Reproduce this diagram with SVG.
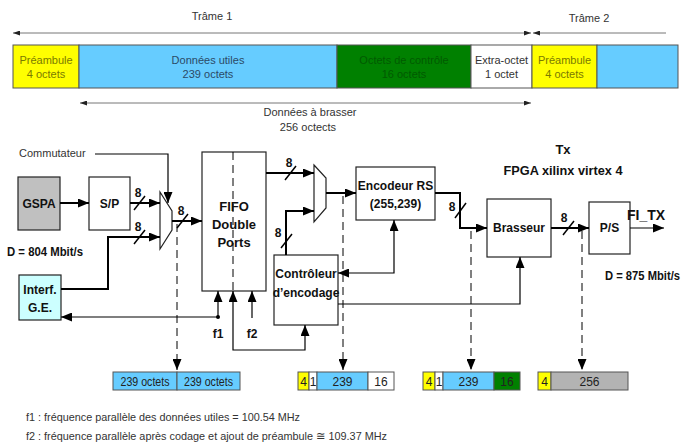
<svg xmlns="http://www.w3.org/2000/svg" width="692" height="443" viewBox="0 0 692 443">
<style>
text{font-family:"Liberation Sans",Arial,sans-serif;}
.t{font-size:11px;fill:#333;text-anchor:middle;}
.b{font-size:12px;font-weight:bold;fill:#111;text-anchor:middle;}
.n{font-size:12px;fill:#222;text-anchor:middle;}
.box{fill:#fff;stroke:#222;stroke-width:1.2;}
.seg{stroke:#555;stroke-width:1;}
.bus{fill:none;stroke:#000;stroke-width:2;}
.ctl{fill:none;stroke:#000;stroke-width:1.2;}
.dash{fill:none;stroke:#000;stroke-width:1;stroke-dasharray:8,5;}
.tl{fill:none;stroke:#777;stroke-width:1;}
.sl{stroke:#000;stroke-width:1.5;}
</style>
<defs>
<marker id="ah" markerUnits="userSpaceOnUse" markerWidth="11" markerHeight="9" refX="11" refY="4.5" orient="auto-start-reverse"><path d="M0,0 L11,4.5 L0,9 z" fill="#000"/></marker>
<marker id="sa" markerUnits="userSpaceOnUse" markerWidth="7" markerHeight="5" refX="7" refY="2.5" orient="auto-start-reverse"><path d="M0,0 L7,2.5 L0,5 z" fill="#222"/></marker>
</defs>

<g id="frame">
<rect class="seg" x="13" y="45" width="66" height="43" fill="#ffff00"/>
<rect class="seg" x="79" y="45" width="258" height="43" fill="#66ccff"/>
<rect class="seg" x="337" y="45" width="134" height="43" fill="#008000"/>
<rect class="seg" x="471" y="45" width="61" height="43" fill="#ffffff"/>
<rect class="seg" x="532" y="45" width="65" height="43" fill="#ffff00"/>
<rect class="seg" x="597" y="45" width="81" height="43" fill="#66ccff"/>
<text class="t" x="46" y="64" style="fill:#7a7a00">Préambule</text>
<text class="t" x="46" y="78" style="fill:#7a7a00">4 octets</text>
<text class="t" x="208" y="64" style="fill:#2b4a66">Données utiles</text>
<text class="t" x="208" y="78" style="fill:#2b4a66">239 octets</text>
<text class="t" x="404" y="64" style="fill:#005a00">Octets de contrôle</text>
<text class="t" x="404" y="78" style="fill:#005a00">16 octets</text>
<text class="t" x="501.5" y="64">Extra-octet</text>
<text class="t" x="501.5" y="78">1 octet</text>
<text class="t" x="564.5" y="64" style="fill:#7a7a00">Préambule</text>
<text class="t" x="564.5" y="78" style="fill:#7a7a00">4 octets</text>
<text class="t" x="212" y="20">Trâme 1</text>
<text class="t" x="589" y="22">Trâme 2</text>
<text class="t" x="310" y="116">Données à brasser</text>
<text class="t" x="308" y="131">256 octects</text>
<path class="tl" d="M13,33 H531" marker-start="url(#sa)" marker-end="url(#sa)"/>
<path class="tl" d="M533,33 H666" marker-start="url(#sa)"/>
<path class="tl" d="M80,103 H531" marker-start="url(#sa)" marker-end="url(#sa)"/>
</g>

<g id="gspa"><rect class="box" x="18" y="177" width="42" height="53" style="fill:#c0c0c0"/><text class="b" x="39" y="208">GSPA</text></g>
<g id="sp"><rect class="box" x="89" y="177" width="41" height="53"/><text class="b" x="109.5" y="208">S/P</text></g>
<g id="interf"><rect class="box" x="19" y="275" width="42" height="45" style="fill:#ccffff"/><text class="b" x="40" y="294">Interf.</text><text class="b" x="40" y="312">G.E.</text></g>
<g id="mux1"><polygon class="box" points="160,192 172,211 172,230 160,249"/></g>
<g id="fifo"><rect class="box" x="202" y="152" width="64" height="139"/><line class="dash" x1="233" y1="152" x2="233" y2="291"/><text class="b" x="234" y="211" style="font-size:13px">FIFO</text><text class="b" x="234" y="229" style="font-size:13px">Double</text><text class="b" x="234" y="247" style="font-size:13px">Ports</text></g>
<g id="mux2"><polygon class="box" points="314,165 326,178 326,208 314,222"/></g>
<g id="encodeur"><rect class="box" x="356" y="167" width="79" height="53"/><text class="b" x="395.5" y="190">Encodeur RS</text><text class="b" x="395.5" y="208">(255,239)</text></g>
<g id="controleur"><rect class="box" x="274" y="255" width="64" height="70"/><text class="b" x="306" y="278">Contrôleur</text><text class="b" x="306" y="297">d’encodage</text></g>
<g id="brasseur"><rect class="box" x="487" y="199" width="64" height="58"/><text class="b" x="519" y="232">Brasseur</text></g>
<g id="ps"><rect class="box" x="589" y="202" width="41" height="52"/><text class="b" x="609.5" y="232">P/S</text></g>

<g id="connectors">
<path class="ctl" d="M95,154 H168 V203" marker-end="url(#ah)"/>
<path class="bus" d="M60,203 H89" marker-end="url(#ah)"/>
<path class="bus" d="M130,203 H160" marker-end="url(#ah)"/>
<path class="bus" d="M61,289 H108 V237 H160" marker-end="url(#ah)"/>
<path class="bus" d="M172,221 H202" marker-end="url(#ah)"/>
<path class="bus" d="M266,173 H314" marker-end="url(#ah)"/>
<path class="bus" d="M286,255 V211 H314" marker-end="url(#ah)"/>
<path class="bus" d="M326,193 H356" marker-end="url(#ah)"/>
<path class="bus" d="M435,193 H460 V228 H487" marker-end="url(#ah)"/>
<path class="bus" d="M551,228 H589" marker-end="url(#ah)"/>
<path class="ctl" d="M630,228 H664" marker-end="url(#ah)"/>
<path class="ctl" d="M218,317 V291" marker-end="url(#ah)"/>
<path class="ctl" d="M218,317 H61" marker-end="url(#ah)"/>
<circle cx="218" cy="317" r="2" fill="#000"/>
<path class="ctl" d="M252,318 V291" marker-end="url(#ah)"/>
<path class="ctl" d="M233,291 V350 H305 V325" marker-start="url(#ah)" marker-end="url(#ah)"/>
<path class="ctl" d="M394,220 V273 H338" marker-start="url(#ah)" marker-end="url(#ah)"/>
<path class="ctl" d="M338,304 H520 V257" marker-end="url(#ah)"/>
<path class="dash" d="M177,224 V370" marker-end="url(#ah)"/>
<path class="dash" d="M343,196 V370" marker-end="url(#ah)"/>
<path class="dash" d="M471,231 V370" marker-end="url(#ah)"/>
<path class="dash" d="M582,231 V370" marker-end="url(#ah)"/>
<line class="sl" x1="134" y1="210" x2="145" y2="196"/>
<line class="sl" x1="134" y1="244" x2="145" y2="230"/>
<line class="sl" x1="177" y1="228" x2="188" y2="214"/>
<line class="sl" x1="285" y1="180" x2="296" y2="166"/>
<line class="sl" x1="281" y1="248" x2="292" y2="234"/>
<line class="sl" x1="455" y1="218" x2="466" y2="203"/>
<line class="sl" x1="563" y1="235" x2="574" y2="221"/>
<text class="b" x="138" y="197">8</text>
<text class="b" x="138" y="231">8</text>
<text class="b" x="181" y="215">8</text>
<text class="b" x="289" y="167">8</text>
<text class="b" x="278" y="237">8</text>
<text class="b" x="452" y="211">8</text>
<text class="b" x="564" y="222">8</text>
</g>

<g id="labels">
<text x="19" y="157" style="font-size:11px;fill:#333">Commutateur</text>
<text x="7" y="256" style="font-size:12px;font-weight:bold;fill:#111" textLength="76" lengthAdjust="spacingAndGlyphs">D = 804 Mbit/s</text>
<text class="b" x="218" y="338">f1</text>
<text class="b" x="252" y="338">f2</text>
<text class="b" x="563" y="154" style="font-size:13px">Tx</text>
<text class="b" x="563" y="175" textLength="119" lengthAdjust="spacingAndGlyphs" style="font-size:12.5px">FPGA xilinx virtex 4</text>
<text x="627" y="220" style="font-size:14px;font-weight:bold;fill:#111">FI_TX</text>
<text x="605" y="280" style="font-size:12px;font-weight:bold;fill:#111" textLength="75" lengthAdjust="spacingAndGlyphs">D = 875 Mbit/s</text>
</g>

<g id="bars">
<rect class="seg" x="113" y="372" width="64" height="18" fill="#66ccff"/>
<rect class="seg" x="177" y="372" width="63" height="18" fill="#66ccff"/>
<text class="n" x="145" y="386" textLength="49" lengthAdjust="spacingAndGlyphs">239 octets</text>
<text class="n" x="208.5" y="386" textLength="49" lengthAdjust="spacingAndGlyphs">239 octets</text>
<rect class="seg" x="298" y="372" width="11" height="18" fill="#ffff00"/>
<rect class="seg" x="309" y="372" width="8" height="18" fill="#ffffff"/>
<rect class="seg" x="317" y="372" width="51" height="18" fill="#66ccff"/>
<rect class="seg" x="368" y="372" width="26" height="18" fill="#ffffff"/>
<text class="n" x="303.5" y="386">4</text><text class="n" x="313" y="386">1</text><text class="n" x="342.5" y="386">239</text><text class="n" x="381" y="386">16</text>
<rect class="seg" x="423" y="372" width="12" height="18" fill="#ffff00"/>
<rect class="seg" x="435" y="372" width="8" height="18" fill="#ffffff"/>
<rect class="seg" x="443" y="372" width="51" height="18" fill="#66ccff"/>
<rect class="seg" x="494" y="372" width="26" height="18" fill="#008000"/>
<text class="n" x="429" y="386">4</text><text class="n" x="439" y="386">1</text><text class="n" x="468.5" y="386">239</text><text class="n" x="507" y="386">16</text>
<rect class="seg" x="538" y="372" width="13" height="18" fill="#ffff00"/>
<rect class="seg" x="551" y="372" width="77" height="18" fill="#b3b3b3"/>
<text class="n" x="544.5" y="386">4</text><text class="n" x="589.5" y="386">256</text>
</g>

<g id="notes">
<text x="26" y="421" style="font-size:11.5px;fill:#333" textLength="274" lengthAdjust="spacingAndGlyphs">f1 : fréquence parallèle des données utiles = 100.54 MHz</text>
<text x="26" y="440" style="font-size:11.5px;fill:#333" textLength="361" lengthAdjust="spacingAndGlyphs">f2 : fréquence parallèle après codage et ajout de préambule  ≅ 109.37 MHz</text>
</g>
</svg>
